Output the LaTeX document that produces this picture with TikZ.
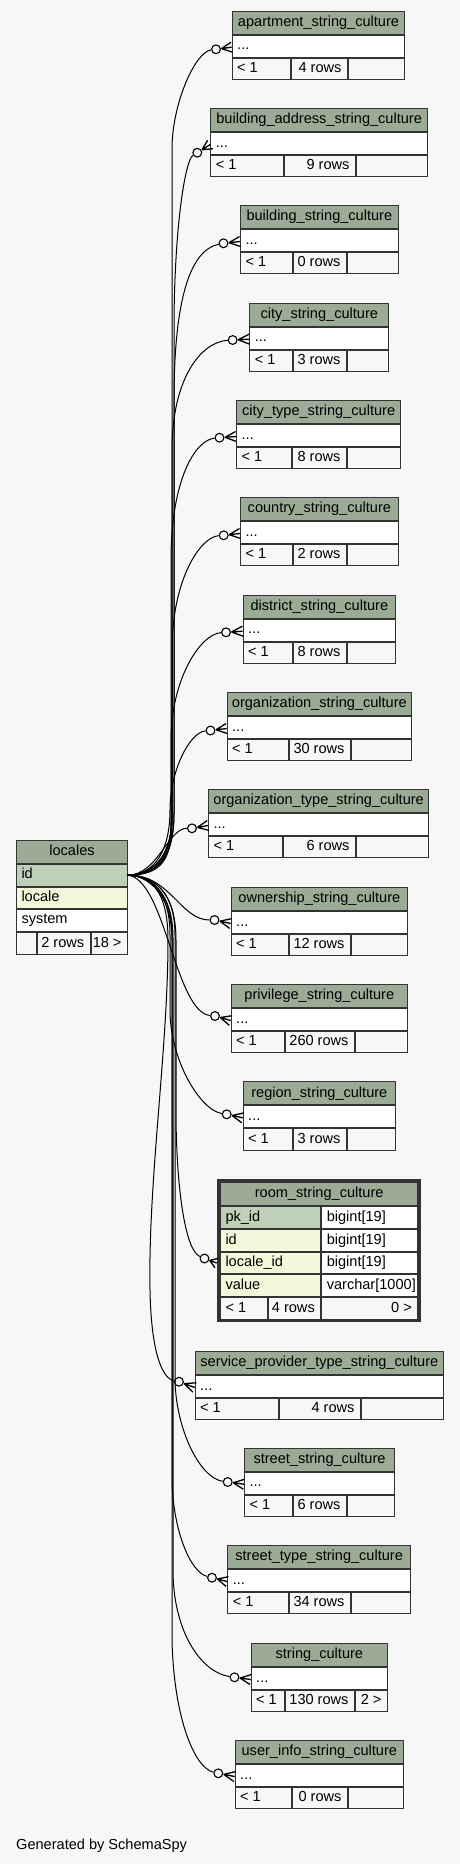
\documentclass[tikz,border=0pt]{standalone}
\usepackage{fontspec}
\setmainfont{Liberation Sans}
\usetikzlibrary{calc}
\definecolor{bg}{HTML}{F7F7F7}
\definecolor{hdr}{HTML}{9BAB96}
\definecolor{pk}{HTML}{BED1B8}
\definecolor{fk}{HTML}{F4F7DA}
\definecolor{bordercol}{HTML}{333333}
\newcommand\tabfont{\fontsize{14.56pt}{17pt}\selectfont}
\newcommand\wrapcl[1]{\makebox[\twl pt][l]{#1}}
\newcommand\wrapcr[1]{\makebox[\twr pt][r]{#1}}
\newcommand\wrapcc[1]{#1}
\newcommand\cel[8]{%
 \pgfmathsetmacro\cw{(#4)-(#2)-1}%
 \pgfmathsetmacro\ch{(#5)-(#3)-1}%
 \pgfmathsetmacro\twl{\cw-10}%
 \pgfmathsetmacro\twr{\cw-12}%
 \node[cell,#7,fill=#6,minimum width=\cw pt,minimum height=\ch pt] (#1) at ({#2+0.5},{#3+0.5}) {\csname wrap#7\endcsname{#8}};}
\newcommand\tbl[9]{%
 \cel{#1h}{#2}{#4}{#3}{#4+24}{hdr}{cc}{#5}%
 \cel{#1r}{#2}{#4+24}{#3}{#4+47}{white}{cl}{...}%
 \cel{#1a}{#2}{#4+47}{#6}{#4+69.3}{bg}{cl}{< 1}%
 \cel{#1b}{#6}{#4+47}{#7}{#4+69.3}{bg}{cr}{#8}%
 \cel{#1c}{#7}{#4+47}{#3}{#4+69.3}{bg}{cr}{#9}%
 \coordinate (#1p) at ($(#1r.west)+(-0.5,1)$);}
\newcommand\crowfoot[2]{\draw[crowline] ($(#1)!5.5pt!(#2)$) coordinate (#1v) -- (#2) (#1v) -- ($(#2)!5pt!90:(#1)$) (#1v) -- ($(#2)!5pt!-90:(#1)$);}
\begin{document}
\begin{tikzpicture}[x=1pt,y=-1pt,
 cell/.style={draw=bordercol,line width=1pt,inner ysep=0pt,outer sep=0pt,text height=10.5pt,text depth=3pt,anchor=north west,font=\tabfont,text=black},
 cc/.style={inner xsep=0pt},
 cl/.style={inner xsep=5pt},
 cr/.style={inner xsep=6pt},
 odot/.style={circle,draw=black,fill=bg,line width=1.1pt,minimum size=8.8pt,inner sep=0pt},
 edge/.style={draw=black,line width=1pt},
 crowline/.style={draw=black,line width=1.3pt}]
\fill[bg] (0,0) rectangle (460,1864);
\useasboundingbox (0,0) rectangle (460,1864);
% locales
\cel{loch}{16}{840}{128}{863.7}{hdr}{cc}{locales}
\cel{locid}{16}{863.7}{128}{886.7}{pk}{cl}{id}
\cel{locl}{16}{886.7}{128}{908.7}{fk}{cl}{locale}
\cel{locs}{16}{908.7}{128}{931.7}{white}{cl}{system}
\cel{locfa}{16}{931.7}{37}{955}{bg}{cc}{}
\cel{locfb}{37}{931.7}{90.7}{955}{bg}{cr}{2 rows}
\cel{locfc}{90.7}{931.7}{128}{955}{bg}{cr}{18 >}
% tables
\tbl{ta}{231.7}{405.3}{10.7}{apartment\_string\_culture}{290.7}{348}{4 rows}{}
\tbl{tb}{210.3}{428}{108}{building\_address\_string\_culture}{284}{356}{9 rows}{}
\tbl{tc}{240}{398.7}{205}{building\_string\_culture}{293}{347}{0 rows}{}
\tbl{td}{249.3}{389.3}{302.7}{city\_string\_culture}{293}{347}{3 rows}{}
\tbl{te}{236}{401.3}{400}{city\_type\_string\_culture}{292}{347}{8 rows}{}
\tbl{tf}{240}{398.7}{497}{country\_string\_culture}{293}{347}{2 rows}{}
\tbl{tg}{242.7}{396}{594.7}{district\_string\_culture}{293}{347}{8 rows}{}
\tbl{th}{226.7}{412}{692}{organization\_string\_culture}{289.3}{351}{30 rows}{}
\tbl{ti}{208}{429.3}{789}{organization\_type\_string\_culture}{282.7}{356}{6 rows}{}
\tbl{tj}{230.7}{408}{887}{ownership\_string\_culture}{289.3}{351}{12 rows}{}
\tbl{tk}{230.7}{408}{984}{privilege\_string\_culture}{285}{355}{260 rows}{}
\tbl{tl}{242.7}{396}{1081.3}{region\_string\_culture}{293}{347}{3 rows}{}
\tbl{tn}{194.7}{444}{1351}{service\_provider\_type\_string\_culture}{278.7}{361}{4 rows}{}
\tbl{to}{244}{395}{1447.7}{street\_string\_culture}{293}{347}{6 rows}{}
\tbl{tp}{227.3}{411}{1545}{street\_type\_string\_culture}{289}{351}{34 rows}{}
\tbl{tq}{250.7}{388}{1643}{string\_culture}{285}{355}{130 rows}{2 >}
\tbl{tr}{234.7}{404}{1740}{user\_info\_string\_culture}{292}{348}{0 rows}{}
% room_string_culture
\cel{rmh}{220}{1182}{418.3}{1206.3}{hdr}{cc}{room\_string\_culture}
\cel{rm1a}{220}{1206.3}{321.3}{1229}{pk}{cl}{pk\_id}
\cel{rm1b}{321.3}{1206.3}{418.3}{1229}{white}{cl}{bigint[19]}
\cel{rm2a}{220}{1229}{321.3}{1252}{fk}{cl}{id}
\cel{rm2b}{321.3}{1229}{418.3}{1252}{white}{cl}{bigint[19]}
\cel{rm3a}{220}{1252}{321.3}{1274.3}{fk}{cl}{locale\_id}
\cel{rm3b}{321.3}{1252}{418.3}{1274.3}{white}{cl}{bigint[19]}
\cel{rm4a}{220}{1274.3}{321.3}{1297}{fk}{cl}{value}
\cel{rm4b}{321.3}{1274.3}{418.3}{1297}{white}{cl}{varchar[1000]}
\cel{rmfa}{220}{1297}{268}{1319.7}{bg}{cl}{< 1}
\cel{rmfb}{268}{1297}{321.3}{1319.7}{bg}{cr}{4 rows}
\cel{rmfc}{321.3}{1297}{418.3}{1319.7}{bg}{cr}{0 >}
\draw[bordercol,line width=3pt] (218.2,1180.5) rectangle (419.6,1320.8);
\coordinate (tmp) at (216.7,1263);
% footer text
\node[anchor=base west,font=\tabfont,inner sep=0pt] (gen) at (16,1849) {Generated by SchemaSpy};
% circles
\node[odot] (k1) at (216,49.3) {};
\node[odot] (k2) at (197.3,152.7) {};
\node[odot] (k3) at (223.5,243.3) {};
\node[odot] (k4) at (232.7,340) {};
\node[odot] (k5) at (219.5,437.7) {};
\node[odot] (k6) at (223.7,535.3) {};
\node[odot] (k7) at (226,632.3) {};
\node[odot] (k8) at (210.5,730.5) {};
\node[odot] (k9) at (192,828.3) {};
\node[odot] (k10) at (214.5,920) {};
\node[odot] (k11) at (215,1016) {};
\node[odot] (k12) at (226.7,1114.3) {};
\node[odot] (k13) at (204.5,1258.5) {};
\node[odot] (k14) at (179,1381.7) {};
\node[odot] (k15) at (227.7,1482) {};
\node[odot] (k16) at (212,1577.7) {};
\node[odot] (k17) at (234.5,1677.3) {};
\node[odot] (k18) at (218.3,1773.3) {};
% edges up
\draw[edge] (locid.east) .. controls (150,875) and (172,862) .. (172,820) -- (172,149) .. controls (172,104) and (195,52) .. (k1);
\draw[edge] (locid.east) .. controls (154,875) and (174,862) .. (174,815) -- (174,330) .. controls (174,230) and (185,160) .. (k2);
\draw[edge] (locid.east) .. controls (152,875) and (174,864) .. (174,812) -- (174,400) .. controls (174,300) and (190,250) .. (k3);
\draw[edge] (locid.east) .. controls (148,875) and (172,862) .. (172,815) -- (172,450) .. controls (172,380) and (200,342) .. (k4);
\draw[edge] (locid.east) .. controls (146,875) and (171,864) .. (171,822) -- (171,560) .. controls (171,480) and (195,440) .. (k5);
\draw[edge] (locid.east) .. controls (150,875) and (172,866) .. (172,826) -- (172,650) .. controls (172,580) and (200,537) .. (k6);
\draw[edge] (locid.east) .. controls (152,875) and (171,868) .. (171,830) -- (171,740) .. controls (171,680) and (200,634) .. (k7);
\draw[edge] (locid.east) .. controls (155,875) and (170,850) .. (170,810) .. controls (170,770) and (190,732) .. (k8);
\draw[edge] (locid.east) .. controls (158,875) and (168,828) .. (k9);
% edges down
\draw[edge] (locid.east) .. controls (170,874) and (180,920) .. (k10);
\draw[edge] (locid.east) .. controls (165,878) and (175,1012) .. (k11);
\draw[edge] (locid.east) .. controls (150,875) and (170,890) .. (170,935) -- (170,1010) .. controls (170,1060) and (200,1110) .. (k12);
\draw[edge] (locid.east) .. controls (154,875) and (176,892) .. (176,940) -- (176,1120) .. controls (177,1190) and (185,1250) .. (k13);
\draw[edge] (locid.east) .. controls (150,875) and (168,890) .. (168,940) .. controls (168,1050) and (148,1180) .. (150,1290) .. controls (151,1345) and (160,1378) .. (k14);
\draw[edge] (locid.east) .. controls (152,875) and (175,890) .. (175,935) -- (175,1380) .. controls (176,1430) and (200,1478) .. (k15);
\draw[edge] (locid.east) .. controls (148,875) and (172,890) .. (172,935) -- (172,1480) .. controls (173,1530) and (190,1572) .. (k16);
\draw[edge] (locid.east) .. controls (150,875) and (173,892) .. (173,938) -- (173,1570) .. controls (173,1630) and (200,1672) .. (k17);
\draw[edge] (locid.east) .. controls (146,875) and (172,892) .. (172,940) -- (172,1640) .. controls (174,1720) and (195,1768) .. (k18);
% crow feet
\crowfoot{k1}{tap}
\crowfoot{k2}{tbp}
\crowfoot{k3}{tcp}
\crowfoot{k4}{tdp}
\crowfoot{k5}{tep}
\crowfoot{k6}{tfp}
\crowfoot{k7}{tgp}
\crowfoot{k8}{thp}
\crowfoot{k9}{tip}
\crowfoot{k10}{tjp}
\crowfoot{k11}{tkp}
\crowfoot{k12}{tlp}
\crowfoot{k13}{tmp}
\crowfoot{k14}{tnp}
\crowfoot{k15}{top}
\crowfoot{k16}{tpp}
\crowfoot{k17}{tqp}
\crowfoot{k18}{trp}
\end{tikzpicture}
\end{document}
